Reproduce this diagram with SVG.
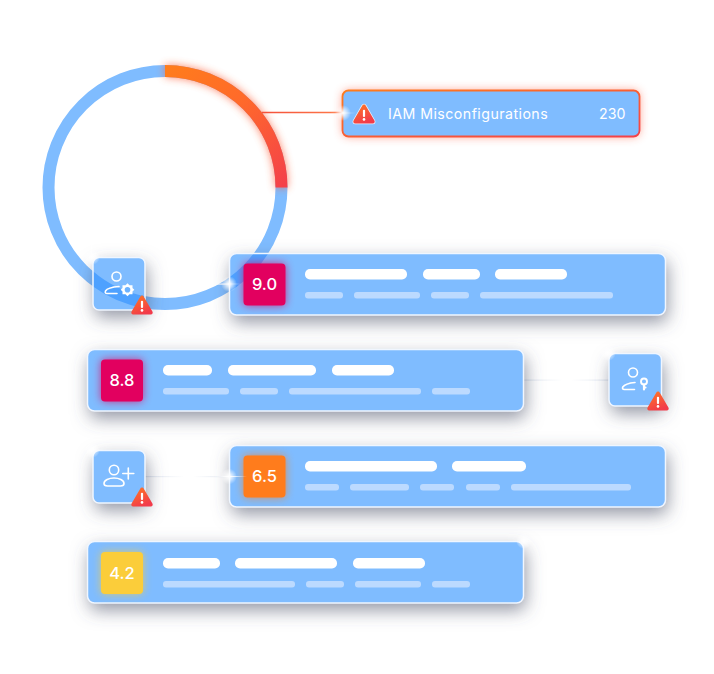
<svg xmlns="http://www.w3.org/2000/svg" width="714" height="674" viewBox="0 0 714 674">
<style>
text{font-family:"Inter","Noto Sans","Liberation Sans",sans-serif;fill:#fff}
.card{fill:#7fbcff;filter:url(#shadow)}
.edge{fill:none;stroke:#f0f6ff;stroke-width:1.500}
.through{fill:#4ea1ff}
.top{fill:#fff}
.sub{fill:#bcdaff}
.score{font-size:16.500px;font-weight:500;text-anchor:middle}
.ico{fill:none;stroke:#fff;stroke-width:1.600;stroke-linecap:round;stroke-linejoin:round}
.badgeGlow{filter:url(#glow);opacity:.75}
</style>
<defs>
<filter id="shadow" x="-50%" y="-100%" width="200%" height="300%"><feDropShadow dx="2" dy="7" stdDeviation="9" flood-color="#50546a" flood-opacity="0.62"/></filter>
<filter id="glow" x="-50%" y="-50%" width="200%" height="200%"><feGaussianBlur stdDeviation="4.500"/></filter>
<filter id="glowWide" x="-10%" y="-60%" width="120%" height="220%"><feGaussianBlur stdDeviation="5"/></filter>
<linearGradient id="arcGrad" gradientUnits="userSpaceOnUse" x1="165" y1="70" x2="282" y2="187"><stop offset="0" stop-color="#ff7c1c"/><stop offset="0.45" stop-color="#ff6a2a"/><stop offset="1" stop-color="#f4414a"/></linearGradient>
<linearGradient id="cardEdge" x1="0" y1="0" x2="1" y2="1"><stop offset="0" stop-color="#ff7c1c"/><stop offset="1" stop-color="#f4414a"/></linearGradient>
<linearGradient id="warn" x1="0" y1="0" x2="0.5" y2="1"><stop offset="0" stop-color="#ff7a22"/><stop offset="1" stop-color="#f23b4a"/></linearGradient>
<linearGradient id="leadRed" gradientUnits="userSpaceOnUse" x1="262" y1="0" x2="345" y2="0"><stop offset="0" stop-color="#f4503a"/><stop offset="1" stop-color="#ff7c4a"/></linearGradient>
<linearGradient id="fade" gradientUnits="objectBoundingBox" x1="0" y1="0" x2="1" y2="0"><stop offset="0" stop-color="#dfe5ef"/><stop offset="0.45" stop-color="#fff"/><stop offset="0.55" stop-color="#fff"/><stop offset="1" stop-color="#dfe5ef"/></linearGradient>
<radialGradient id="spark"><stop offset="0" stop-color="#fff"/><stop offset="0.3" stop-color="#fff" stop-opacity="0.75"/><stop offset="1" stop-color="#fff" stop-opacity="0"/></radialGradient>
<path id="tri" d="M11 1.500 C11.800 1.500 12.400 2 12.800 2.700 L21.400 17.600 C22.200 19 21.400 20.500 19.800 20.500 H2.200 C0.600 20.500 -0.200 19 0.600 17.600 L9.200 2.700 C9.600 2 10.200 1.500 11 1.500Z"/>
<g id="warning"><use href="#tri" fill="url(#warn)"/><rect x="9.900" y="6.800" width="2.200" height="7.200" rx="1" fill="#fff"/><circle cx="11" cy="16.400" r="1.300" fill="#fff"/></g>
<g id="sparkle"><circle r="8" fill="url(#spark)"/><rect x="-18" y="-0.700" width="36" height="1.400" fill="url(#spark)"/></g>
</defs>

<g id="ring">
<circle cx="165" cy="187.500" r="116.500" fill="none" stroke="#7fbcff" stroke-width="12"/>
<path d="M165 71 A116.500 116.500 0 0 1 281.500 187.500" fill="none" stroke="#ff5a30" stroke-width="12" filter="url(#glow)" opacity="0.75"/>
<path d="M165 71 A116.500 116.500 0 0 1 281.500 187.500" fill="none" stroke="url(#arcGrad)" stroke-width="12"/>
</g>

<g id="connectors">
<line x1="262" y1="112.500" x2="345" y2="112.500" stroke="url(#leadRed)" stroke-width="1.400"/>
<rect x="145" y="283.500" width="87" height="1.200" fill="#fff" opacity="0.8"/>
<rect x="524" y="379.500" width="86" height="1.200" fill="url(#fade)"/>
<rect x="145" y="476" width="87" height="1.200" fill="url(#fade)"/>
</g>

<g id="tile-gear">
<rect class="card" x="93" y="257.500" width="52" height="52.500" rx="6"/>
<path class="through" d="M93 271.300 A110.500 110.500 0 0 0 145 296.200 V308.400 A122.500 122.500 0 0 1 93 286.600Z"/>
<rect class="edge" x="93" y="257.500" width="52" height="52.500" rx="6"/>
<circle class="ico" cx="116.500" cy="276.500" r="4.500"/>
<path class="ico" d="M119 286.500 C112 287 107 288.500 105.500 291 C104.800 292.500 105.500 293.500 107 293.500 H117"/>
<path d="M127.500 283.300 L129.500 285.300 H132.500 V288 L134.300 289.800 L132.500 291.600 V294.300 H129.500 L127.500 296.300 L125.500 294.300 H122.500 V291.600 L120.700 289.800 L122.500 288 V285.300 H125.500Z" fill="#fff"/>
<circle cx="127.500" cy="289.800" r="2.800" fill="#6cb2ff"/>
<use href="#warning" x="131" y="294"/>
</g>

<g id="card-9">
<rect class="card" x="229.500" y="253.500" width="436" height="61.500" rx="7"/>
<path class="through" d="M253.600 253.500 A110.500 110.500 0 0 1 229.500 277.200 V291.600 A122.500 122.500 0 0 0 268.200 253.500Z"/>
<rect class="edge" x="229.500" y="253.500" width="436" height="61.500" rx="7"/>
<rect class="badgeGlow" x="243.500" y="263.500" width="42" height="42" rx="4" fill="#e2005f"/>
<rect x="243.500" y="263.500" width="42" height="42" rx="4" fill="#e2005f"/>
<text class="score" x="264.500" y="290">9.0</text>
<rect class="top" x="305" y="269" width="102" height="10.500" rx="5"/><rect class="top" x="423" y="269" width="57" height="10.500" rx="5"/><rect class="top" x="495" y="269" width="72" height="10.500" rx="5"/>
<rect class="sub" x="305" y="292" width="38" height="6.500" rx="3"/><rect class="sub" x="354" y="292" width="66" height="6.500" rx="3"/><rect class="sub" x="431" y="292" width="38" height="6.500" rx="3"/><rect class="sub" x="480" y="292" width="133" height="6.500" rx="3"/>
</g>

<g id="iam-card">
<rect x="342.500" y="90.500" width="297" height="46" rx="6" fill="#ff5a3a" filter="url(#glowWide)" opacity="0.6"/>
<rect x="342.500" y="90.500" width="297" height="46" rx="6" fill="#7fbcff" stroke="url(#cardEdge)" stroke-width="1.800"/>
<use href="#tri" x="353" y="103" fill="#fff" stroke="#fff" stroke-width="1.500" opacity="0.8"/>
<use href="#warning" x="353" y="103"/>
<text x="388" y="119" font-size="14.200" letter-spacing="0.450">IAM Misconfigurations</text>
<text x="599" y="119" font-size="14.200">230</text>
</g>

<g id="card-8">
<rect class="card" x="87.500" y="349.500" width="436" height="61.500" rx="7"/>
<rect class="edge" x="87.500" y="349.500" width="436" height="61.500" rx="7"/>
<rect class="badgeGlow" x="101" y="359.500" width="42" height="42" rx="4" fill="#e2005f"/>
<rect x="101" y="359.500" width="42" height="42" rx="4" fill="#e2005f"/>
<text class="score" x="122" y="386">8.8</text>
<rect class="top" x="163" y="365" width="49" height="10.500" rx="5"/><rect class="top" x="228" y="365" width="88" height="10.500" rx="5"/><rect class="top" x="332" y="365" width="62" height="10.500" rx="5"/>
<rect class="sub" x="163" y="388" width="66" height="6.500" rx="3"/><rect class="sub" x="240" y="388" width="38" height="6.500" rx="3"/><rect class="sub" x="289" y="388" width="132" height="6.500" rx="3"/><rect class="sub" x="432" y="388" width="38" height="6.500" rx="3"/>
</g>

<g id="tile-key">
<rect class="card" x="609" y="353.500" width="52.500" height="52.500" rx="6"/>
<rect class="edge" x="609" y="353.500" width="52.500" height="52.500" rx="6"/>
<circle class="ico" cx="633" cy="372.500" r="4.500"/>
<path class="ico" d="M635 382.500 C629 383 624.500 384.500 622.800 387 C622 388.500 622.800 389.500 624.300 389.500 H634.500"/>
<circle cx="644" cy="381.500" r="3" fill="none" stroke="#fff" stroke-width="1.900"/>
<path class="ico" d="M644 384.500 V389.500 M644 387.500 H645.500" style="stroke-width:2.200"/>
<use href="#warning" x="647" y="390"/>
</g>

<g id="tile-add">
<rect class="card" x="93" y="450.500" width="52" height="52.500" rx="6"/>
<rect class="edge" x="93" y="450.500" width="52" height="52.500" rx="6"/>
<circle class="ico" cx="114" cy="470" r="4.700"/>
<path class="ico" d="M104 483.500 C104 480 109 478 114 478 C119 478 124 480 124 483.500 C124 485.500 122.500 486 120.500 486 H107.500 C105.500 486 104 485.500 104 483.500Z"/>
<path class="ico" d="M128.300 468 V479 M122.800 473.500 H133.800"/>
<use href="#warning" x="131" y="486"/>
</g>

<g id="card-6">
<rect class="card" x="229.500" y="445.500" width="436" height="61.500" rx="7"/>
<rect class="edge" x="229.500" y="445.500" width="436" height="61.500" rx="7"/>
<rect class="badgeGlow" x="243.500" y="455.500" width="42" height="42" rx="4" fill="#ff7c1c"/>
<rect x="243.500" y="455.500" width="42" height="42" rx="4" fill="#ff7c1c"/>
<text class="score" x="264.500" y="482">6.5</text>
<rect class="top" x="305" y="461" width="132" height="10.500" rx="5"/><rect class="top" x="452" y="461" width="74" height="10.500" rx="5"/>
<rect class="sub" x="305" y="484" width="34" height="6.500" rx="3"/><rect class="sub" x="350" y="484" width="59" height="6.500" rx="3"/><rect class="sub" x="420" y="484" width="34" height="6.500" rx="3"/><rect class="sub" x="466" y="484" width="34" height="6.500" rx="3"/><rect class="sub" x="511" y="484" width="120" height="6.500" rx="3"/>
</g>

<g id="card-4">
<rect class="card" x="87.500" y="541.500" width="436" height="61.500" rx="7"/>
<rect class="edge" x="87.500" y="541.500" width="436" height="61.500" rx="7"/>
<rect class="badgeGlow" x="101" y="552" width="42" height="42" rx="4" fill="#fbcd3a"/>
<rect x="101" y="552" width="42" height="42" rx="4" fill="#fbcd3a"/>
<text class="score" x="122" y="578.500">4.2</text>
<rect class="top" x="163" y="558" width="57" height="10.500" rx="5"/><rect class="top" x="235" y="558" width="102" height="10.500" rx="5"/><rect class="top" x="353" y="558" width="72" height="10.500" rx="5"/>
<rect class="sub" x="163" y="581" width="132" height="6.500" rx="3"/><rect class="sub" x="306" y="581" width="38" height="6.500" rx="3"/><rect class="sub" x="355" y="581" width="66" height="6.500" rx="3"/><rect class="sub" x="432" y="581" width="38" height="6.500" rx="3"/>
</g>

<g id="sparkles">
<use href="#sparkle" x="343" y="113"/>
<use href="#sparkle" x="229" y="284"/>
<use href="#sparkle" x="229" y="476.500"/>
<use href="#sparkle" x="92" y="257"/>
<rect x="91" y="232" width="1.500" height="30" fill="url(#spark)"/>
<use href="#sparkle" x="92" y="450"/>
<use href="#sparkle" x="608" y="353"/>
<use href="#sparkle" x="524" y="541"/>
</g>
</svg>
